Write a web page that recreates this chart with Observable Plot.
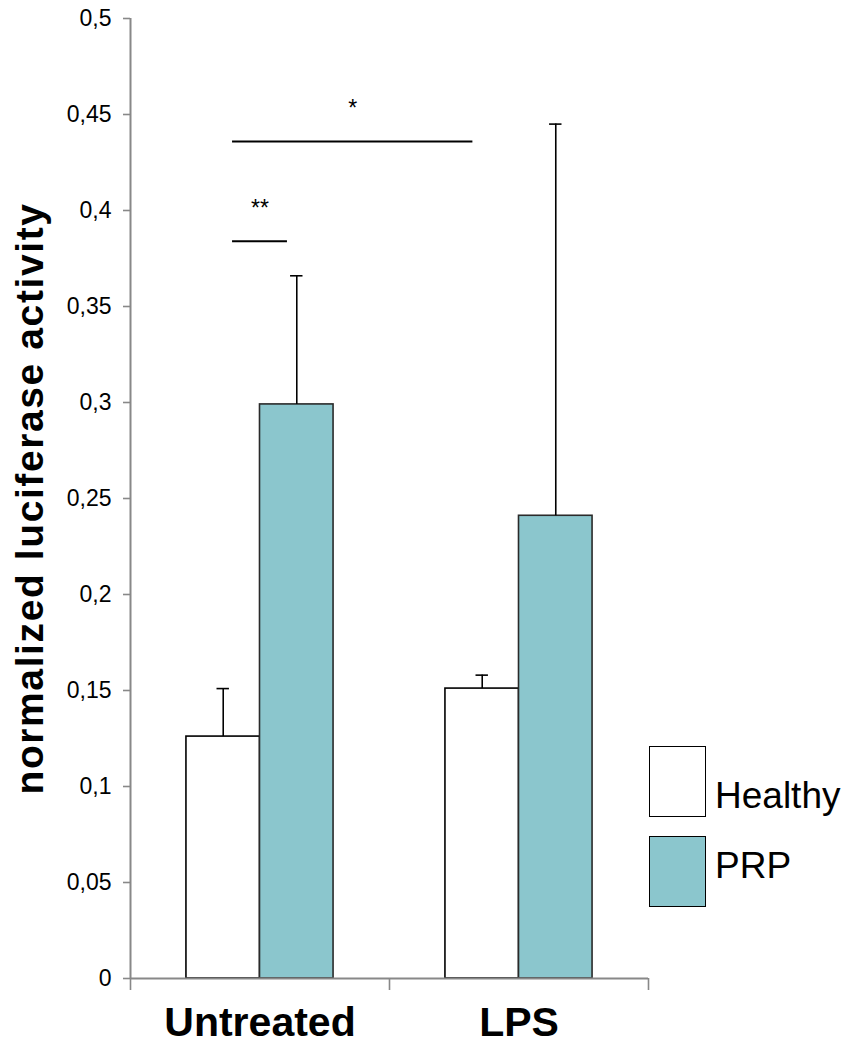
<!DOCTYPE html>
<html>
<head>
<meta charset="utf-8">
<script src="https://cdn.jsdelivr.net/npm/d3@7"></script>
<script src="https://cdn.jsdelivr.net/npm/@observablehq/plot@0.6"></script>
<style>
  html, body { margin: 0; padding: 0; background: #fff; }
  #wrap { position: relative; width: 847px; height: 1046px; font-family: "Liberation Sans", Arial, sans-serif; }
  .leg { position: absolute; left: 649px; display: flex; align-items: flex-end; }
  .sw { width: 57px; height: 71px; border: 1.5px solid #000; box-sizing: border-box; }
  .lt { font-size: 37px; margin-left: 9px; line-height: 1; color: #000; }
</style>
</head>
<body>
<div id="wrap"></div>
<script>
// ---- data ----
const groups = ["Untreated", "LPS"];
const series = ["Healthy", "PRP"];
const seriesColors = ["#ffffff", "#8bc6cd"];
const seriesStrokes = ["#000000", "#2a2a2a"];
const healthyMean = [0.126, 0.151];
const healthyErr = [0.025, 0.007];
const prpMean = [0.299, 0.241];
const prpErr = [0.067, 0.204];
const yTicks = [0, 0.05, 0.1, 0.15, 0.2, 0.25, 0.3, 0.35, 0.4, 0.45, 0.5];
const yLabel = "normalized luciferase activity";
// significance brackets: [groupIndex, seriesIndex] from -> to
const sigLabels = ["**", "*"];
const sigLevels = [0.384, 0.436];
const sigFrom = [[0, 0], [0, 0]];
const sigTo = [[0, 1], [1, 0]];

// ---- layout helpers (in x-data units: each group spans 1) ----
const barW = 0.284;              // bar width as fraction of group band
const center = (g, s) => g + 0.5 + (s === 0 ? -barW / 2 : barW / 2);
const capHalf = 0.024;
const sigInset = 0.036;

const bars = [];
groups.forEach((g, gi) => {
  [healthyMean, prpMean].forEach((m, si) => {
    const err = [healthyErr, prpErr][si][gi];
    bars.push({group: g, gi, series: series[si], si, value: m[gi], hi: m[gi] + err,
      x1: gi + 0.5 + (si === 0 ? -barW : 0), x2: gi + 0.5 + (si === 0 ? 0 : barW)});
  });
});
const sigs = sigLabels.map((lab, i) => {
  const a = center(...sigFrom[i]) + sigInset;
  const b = center(...sigTo[i]) - sigInset;
  return {label: lab, y: sigLevels[i], x1: a, x2: b, xm: (a + b) / 2};
});

const font = "Liberation Sans, Arial, sans-serif";
const fmt = d => d === 0 ? "0" : d3.format("~g")(d).replace(".", ",");

const chart = Plot.plot({
  width: 847,
  height: 1046,
  marginLeft: 130,
  marginRight: 199,
  marginTop: 18,
  marginBottom: 68,
  style: {fontFamily: font, background: "#fff"},
  x: {domain: [0, 2], axis: null},
  y: {domain: [0, 0.5], axis: null},
  marks: [
    // bars
    Plot.rect(bars, {x1: "x1", x2: "x2", y1: 0, y2: "value",
      fill: d => seriesColors[d.si], stroke: d => seriesStrokes[d.si], strokeWidth: 1.6}),
    // error bars
    Plot.ruleX(bars, {x: d => center(d.gi, d.si), y1: "value", y2: "hi", stroke: "#000", strokeWidth: 1.6}),
    Plot.ruleY(bars, {y: "hi", x1: d => center(d.gi, d.si) - capHalf, x2: d => center(d.gi, d.si) + capHalf, stroke: "#000", strokeWidth: 1.6}),
    // axes lines
    Plot.ruleY([0], {stroke: "#888", strokeWidth: 2}),
    Plot.ruleX([0], {stroke: "#888", strokeWidth: 2}),
    Plot.axisY({ticks: yTicks, tickFormat: fmt, tickSize: 7, tickPadding: 12, fontSize: 23, stroke: "#888", strokeWidth: 1.6, color: "#000", label: null}),
    Plot.axisX({ticks: [0, 1, 2], tickSize: 12, tickFormat: () => "", stroke: "#888", strokeWidth: 1.6, label: null}),
    Plot.axisX({ticks: groups.map((g, i) => i + 0.5), tickSize: 0, tickPadding: 28, tickFormat: d => groups[Math.floor(d)],
      fontSize: 41, fontWeight: "bold", color: "#000", label: null}),
    // y label
    Plot.text([yLabel], {frameAnchor: "left", textAnchor: "middle", rotate: -90, dx: -100, fontSize: 39, fontWeight: "bold", fill: "#000"}),
    // significance
    Plot.ruleY(sigs, {y: "y", x1: "x1", x2: "x2", stroke: "#000", strokeWidth: 2}),
    Plot.text(sigs, {x: "xm", y: "y", text: "label", dy: -33, fontSize: 23, fill: "#000"})
  ]
});

const wrap = document.getElementById("wrap");
wrap.appendChild(chart);

// widen the y label's letter spacing to match the reference
d3.select(chart).selectAll("text").filter(function() { return this.textContent === yLabel; })
  .style("letter-spacing", "1.6px");

// legend
const tops = [746, 836];
series.forEach((s, i) => {
  const row = document.createElement("div");
  row.className = "leg";
  row.style.top = tops[i] + "px";
  const sw = document.createElement("div");
  sw.className = "sw";
  sw.style.background = seriesColors[i];
  const t = document.createElement("div");
  t.className = "lt";
  t.textContent = s;
  t.style.marginBottom = (i === 0 ? 3 : 23) + "px";
  row.appendChild(sw);
  row.appendChild(t);
  wrap.appendChild(row);
});
</script>
</body>
</html>
